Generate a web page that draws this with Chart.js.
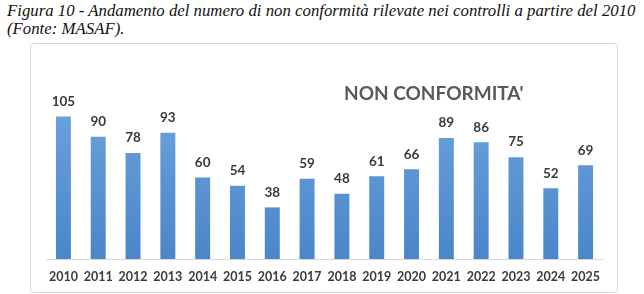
<!DOCTYPE html>
<html>
<head>
<meta charset="utf-8">
<script src="https://cdn.jsdelivr.net/npm/chart.js@4.4.1/dist/chart.umd.min.js"></script>
<style>
  body { margin: 0; background: #fff; width: 644px; height: 294px; overflow: hidden; position: relative; }
  #caption {
    position: absolute; left: 7px; top: 2px; width: 640px;
    font-family: "Liberation Serif", serif; font-style: italic; font-size: 16.8px;
    line-height: 18px; color: #111; white-space: nowrap;
  }
  #box {
    position: absolute; left: 30px; top: 43px; width: 586px; height: 248px;
    border: 1px solid #d9d9d9; border-radius: 3px;
  }
  #title {
    position: absolute; left: 313px; top: 37px;
    font-family: Lato, sans-serif; font-weight: bold; font-size: 19px; color: #595959;
  }
</style>
</head>
<body>
<div id="caption">Figura 10 - Andamento del numero di non conformità rilevate nei controlli a partire del 2010<br>(Fonte: MASAF).</div>
<div id="box">
  <canvas id="c" width="586" height="248"></canvas>
  <div id="title">NON CONFORMITA'</div>
</div>
<script>
// years and number of non-conformities
const years = ['2010','2011','2012','2013','2014','2015','2016','2017','2018','2019','2020','2021','2022','2023','2024','2025'];
const nonConformita = [105, 90, 78, 93, 60, 54, 38, 59, 48, 61, 66, 89, 86, 75, 52, 69];

const valueLabels = {
  id: 'valueLabels',
  afterDatasetsDraw(chart) {
    const ctx = chart.ctx;
    const meta = chart.getDatasetMeta(0);
    ctx.save();
    ctx.font = 'bold 13.5px Lato';
    ctx.fillStyle = '#3a3a3a';
    ctx.textAlign = 'center';
    ctx.textBaseline = 'middle';
    meta.data.forEach((bar, i) => {
      ctx.fillText(String(nonConformita[i]), bar.x, bar.y - 15);
    });
    ctx.restore();
  }
};

function barGradient(context) {
  const chart = context.chart;
  const area = chart.chartArea;
  if (!area) return '#5b9bd5';
  const g = chart.ctx.createLinearGradient(0, area.top, 0, area.bottom);
  g.addColorStop(0, '#6ea3de');
  g.addColorStop(1, '#4a86c9');
  return g;
}

new Chart(document.getElementById('c'), {
  type: 'bar',
  data: {
    labels: years,
    datasets: [{
      data: nonConformita,
      backgroundColor: barGradient,
      borderWidth: 0,
      categoryPercentage: 1,
      barPercentage: 0.43
    }]
  },
  options: {
    responsive: false,
    animation: false,
    layout: { padding: { left: 15, right: 14, top: 52, bottom: 0 } },
    plugins: { legend: { display: false }, tooltip: { enabled: false } },
    scales: {
      y: { display: false, min: 0, max: 120 },
      x: {
        grid: { display: false, drawTicks: false },
        border: { display: true, color: '#d9d9d9', width: 1 },
        ticks: {
          padding: 10, color: '#3a3a3a', autoSkip: false, maxRotation: 0, minRotation: 0,
          font: { family: 'Lato', weight: 'bold', size: 12.5 }
        },
        afterFit(scale) { scale.height = 33; }
      }
    }
  },
  plugins: [valueLabels]
});
</script>
</body>
</html>
